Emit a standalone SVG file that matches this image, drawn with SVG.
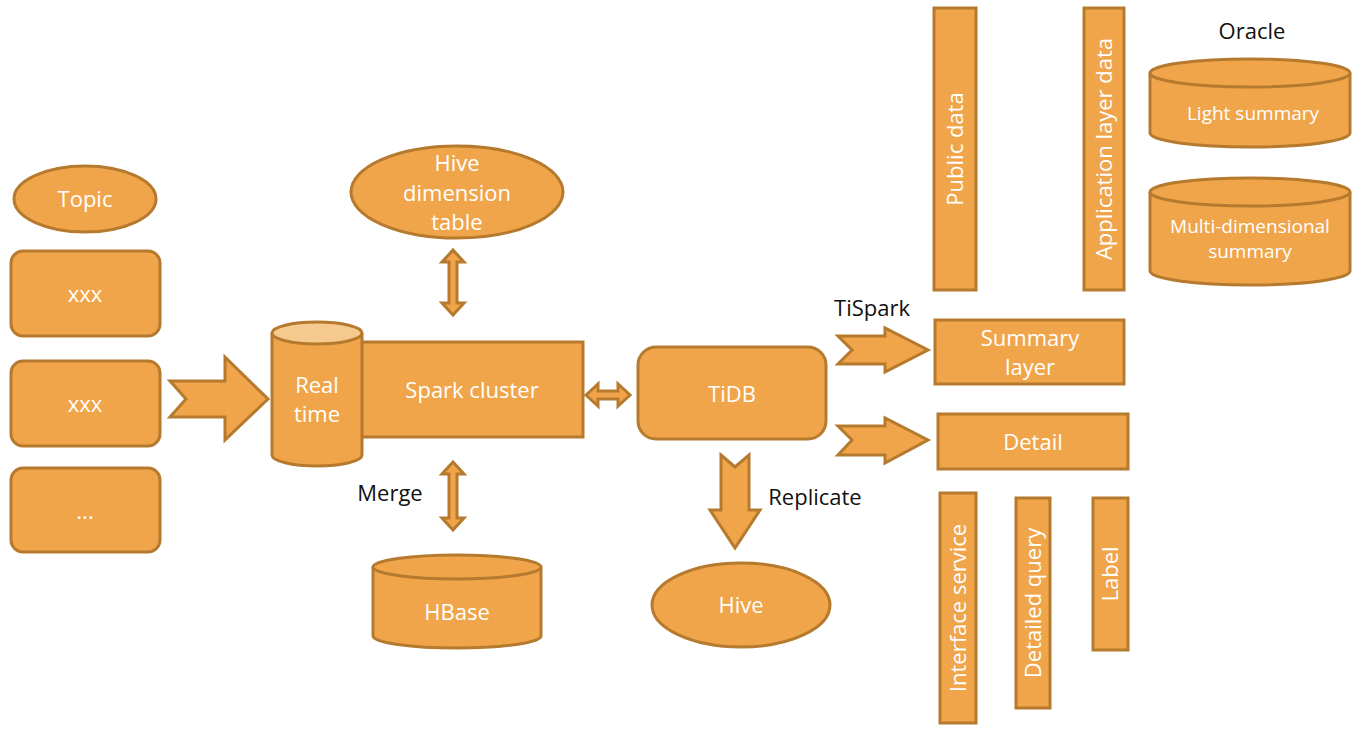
<svg xmlns="http://www.w3.org/2000/svg" width="1360" height="733" viewBox="0 0 1360 733">
<style>
.s{fill:#F0A54A;stroke:#B57A2E;stroke-width:3}
.t{font-family:"Open Sans",sans-serif;font-size:22px;fill:#fff;text-anchor:middle}
.k{font-family:"Open Sans",sans-serif;font-size:22px;fill:#111;text-anchor:middle}
</style>
<rect width="1360" height="733" fill="#fff"/>
<g id="connectors">
<path class="s" d="M170,381 L225,381 L225,357 L268,399 L225,440 L225,417 L170,417 L186,399 Z"/>
<path class="s" d="M453,250 L464,262 L457,262 L457,303 L464,303 L453,315 L442,303 L449,303 L449,262 L442,262 Z"/>
<path class="s" d="M453,462 L464,474 L457,474 L457,518 L464,518 L453,530 L442,518 L449,518 L449,474 L442,474 Z"/>
<path class="s" d="M586,395 L598,384 L598,391 L618,391 L618,384 L630,395 L618,406 L618,399 L598,399 L598,406 Z"/>
<path class="s" d="M721,455 L735,467 L749,455 L749,510 L760,510 L735,548 L710,510 L721,510 Z"/>
<path class="s" d="M838,336 L885,336 L885,328 L928,350 L885,372 L885,364 L838,364 L852,350 Z"/>
<path class="s" d="M838,426 L885,426 L885,418 L928,440 L885,463 L885,455 L838,455 L852,440 Z"/>
</g>
<g id="topic"><ellipse class="s" cx="85" cy="199" rx="71" ry="33"/><text class="t" x="85" y="207">Topic</text></g>
<g id="xxx1"><rect class="s" x="11" y="251" width="149" height="85" rx="12"/><text class="t" x="85" y="302">xxx</text></g>
<g id="xxx2"><rect class="s" x="11" y="361" width="149" height="85" rx="12"/><text class="t" x="85" y="412">xxx</text></g>
<g id="dots"><rect class="s" x="11" y="468" width="149" height="84" rx="12"/><text class="t" x="85" y="519">...</text></g>
<g id="spark"><rect class="s" x="360" y="342" width="223" height="95"/><text class="t" x="472" y="398">Spark cluster</text></g>
<g id="realtime">
<path class="s" d="M272,333 L272,455 A45,11 0 0 0 362,455 L362,333"/>
<ellipse cx="317" cy="333" rx="45" ry="11" fill="#F6C98E" stroke="#B57A2E" stroke-width="3"/>
<text class="t" x="317" y="393">Real</text><text class="t" x="317" y="422">time</text>
</g>
<g id="hivedim"><ellipse class="s" cx="457" cy="192" rx="106" ry="46"/>
<text class="t" x="457" y="171">Hive</text><text class="t" x="457" y="201">dimension</text><text class="t" x="457" y="230">table</text></g>
<g id="hbase">
<path class="s" d="M373,567 L373,636 A84,12 0 0 0 541,636 L541,567"/>
<ellipse class="s" cx="457" cy="567" rx="84" ry="12"/>
<text class="t" x="457" y="620">HBase</text></g>
<g id="tidb"><rect class="s" x="638" y="347" width="188" height="92" rx="18"/><text class="t" x="732" y="402">TiDB</text></g>
<g id="hive"><ellipse class="s" cx="741" cy="605" rx="89" ry="42"/><text class="t" x="741" y="613">Hive</text></g>
<g id="summary"><rect class="s" x="935" y="320" width="189" height="64"/><text class="t" x="1030" y="346">Summary</text><text class="t" x="1030" y="375">layer</text></g>
<g id="detail"><rect class="s" x="938" y="414" width="190" height="55"/><text class="t" x="1033" y="450">Detail</text></g>
<g id="public"><rect class="s" x="934" y="8" width="42" height="282"/><text class="t" transform="translate(963,149) rotate(-90)">Public data</text></g>
<g id="applayer"><rect class="s" x="1084" y="8" width="40" height="282"/><text class="t" transform="translate(1112,149) rotate(-90)">Application layer data</text></g>
<g id="light">
<path class="s" d="M1150,73 L1150,133 A100,14 0 0 0 1350,133 L1350,73"/>
<ellipse class="s" cx="1250" cy="73" rx="100" ry="14"/>
<text class="t" x="1253" y="120" style="font-size:19px">Light summary</text></g>
<g id="multi">
<path class="s" d="M1150,192 L1150,271 A100,14 0 0 0 1350,271 L1350,192"/>
<ellipse class="s" cx="1250" cy="192" rx="100" ry="14"/>
<text class="t" x="1250" y="233" style="font-size:19px">Multi-dimensional</text><text class="t" x="1250" y="258" style="font-size:19px">summary</text></g>
<g id="iface"><rect class="s" x="940" y="493" width="36" height="230"/><text class="t" transform="translate(966,608) rotate(-90)">Interface service</text></g>
<g id="dquery"><rect class="s" x="1016" y="498" width="34" height="210"/><text class="t" transform="translate(1041,603) rotate(-90)">Detailed query</text></g>
<g id="label"><rect class="s" x="1093" y="498" width="35" height="152"/><text class="t" transform="translate(1118,574) rotate(-90)">Label</text></g>
<g id="labels">
<text class="k" x="390" y="501">Merge</text>
<text class="k" x="815" y="505">Replicate</text>
<text class="k" x="872" y="316">TiSpark</text>
<text class="k" x="1252" y="39">Oracle</text>
</g>
</svg>
